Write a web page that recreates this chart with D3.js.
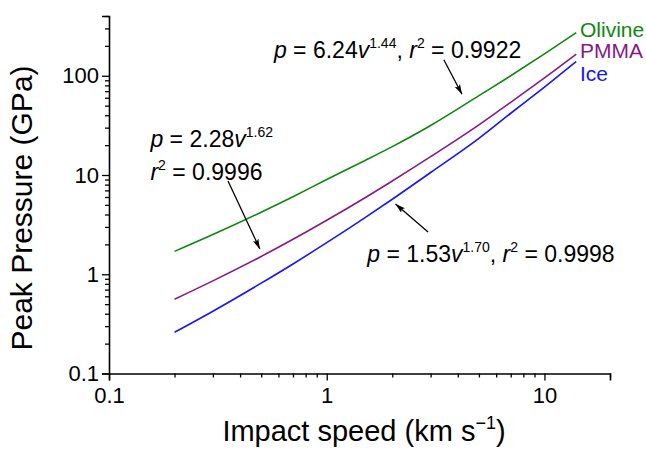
<!DOCTYPE html>
<html>
<head>
<meta charset="utf-8">
<script src="https://cdn.jsdelivr.net/npm/d3@7"></script>
<style>
  html, body { margin: 0; padding: 0; background: #fff; }
  svg { display: block; font-family: "Liberation Sans", Arial, sans-serif; }
</style>
</head>
<body>
<svg id="chart" width="646" height="451"></svg>
<script>
// ---- data ----
const speed   = [0.2, 0.3, 0.5, 0.7, 1, 1.5, 2, 3, 5, 7, 10, 14];
const olivine = [1.7, 2.51, 4.22, 6.05, 9.0, 14.0, 19.3, 31.5, 63, 100, 166, 272];
const pmma    = [0.56, 0.857, 1.51, 2.25, 3.5, 5.9, 8.7, 15.3, 32.0, 54, 95, 165];
const ice     = [0.26, 0.424, 0.813, 1.27, 2.08, 3.72, 5.7, 10.6, 23.4, 41.9, 77, 139];
const seriesNames = ["Olivine", "PMMA", "Ice"];
const xTickLabels = ["0.1", "1", "10"];
const yTickLabels = ["0.1", "1", "10", "100"];

const svg = d3.select("#chart");
const x = d3.scaleLog().domain([0.1, 20]).range([109, 610]);
const y = d3.scaleLog().domain([0.1, 400]).range([373.5, 16]);

const colors = {Olivine: "#0f870f", PMMA: "#871a87", Ice: "#1515ff"};
const seriesData = {Olivine: olivine, PMMA: pmma, Ice: ice};

// ---- axes ----
const xMinor = [];
for (const d of [0.1, 1, 10]) for (let k = 2; k <= 9; k++) if (d * k <= 20.001) xMinor.push(d * k);
const yMinor = [];
for (const d of [0.1, 1, 10, 100]) for (let k = 2; k <= 9; k++) if (d * k <= 400.001) yMinor.push(d * k);

const xAxisG = svg.append("g").attr("transform", "translate(0,373.5)");
xAxisG.call(d3.axisBottom(x).tickValues(xTickLabels.map(Number)).tickFormat(d => d3.format("~g")(d)).tickSize(7).tickPadding(7));
xAxisG.append("g").attr("class", "minor").call(d3.axisBottom(x).tickValues(xMinor).tickFormat("").tickSize(4));
const yAxisG = svg.append("g").attr("transform", "translate(109,0)");
yAxisG.call(d3.axisLeft(y).tickValues(yTickLabels.map(Number)).tickFormat(d => d3.format("~g")(d)).tickSize(7).tickPadding(3));
yAxisG.append("g").attr("class", "minor").call(d3.axisLeft(y).tickValues(yMinor).tickFormat("").tickSize(4));

svg.selectAll(".minor .domain").remove();
svg.selectAll(".domain").attr("stroke", "#000").attr("stroke-width", 1.6);
svg.selectAll(".tick line").attr("stroke", "#000").attr("stroke-width", 1.3);
svg.selectAll(".tick text").attr("font-size", 22).attr("fill", "#000").attr("font-family", "Liberation Sans, Arial, sans-serif");

// axis titles
const xt = svg.append("text").attr("x", 364).attr("y", 441).attr("text-anchor", "middle")
  .attr("font-size", 29).attr("fill", "#000");
xt.append("tspan").text("Impact speed (km s");
xt.append("tspan").attr("dy", -12).attr("font-size", 18).text("\u22121");
xt.append("tspan").attr("dy", 12).text(")");

svg.append("text").attr("transform", "translate(32,208) rotate(-90)").attr("text-anchor", "middle")
  .attr("font-size", 30).attr("fill", "#000").text("Peak Pressure (GPa)");

// ---- lines ----
const line = d3.line().x(d => x(d[0])).y(d => y(d[1])).curve(d3.curveMonotoneX);
for (const name of seriesNames) {
  const vals = seriesData[name];
  svg.append("path").datum(speed.map((v, i) => [v, vals[i]]))
    .attr("fill", "none").attr("stroke", colors[name]).attr("stroke-width", 1.6).attr("d", line);
}

// series labels
const labelPos = {Olivine: 37, PMMA: 58, Ice: 81};
for (const name of seriesNames) {
  svg.append("text").attr("x", 580).attr("y", labelPos[name]).attr("font-size", 21)
    .attr("fill", colors[name]).text(name);
}

// ---- annotations ----
svg.append("defs").append("marker").attr("id", "ah").attr("viewBox", "0 0 10 6")
  .attr("refX", 10).attr("refY", 3).attr("markerWidth", 10).attr("markerHeight", 6)
  .attr("markerUnits", "userSpaceOnUse").attr("orient", "auto")
  .append("path").attr("d", "M0,0 L10,3 L0,6 L2,3 Z").attr("fill", "#000");

const arrows = [
  {from: [3.45, 145], to: [4.18, 65]},
  {from: [0.352, 8.7], to: [0.493, 1.8]},
  {from: [2.92, 2.67], to: [2.07, 5.1]}
];
for (const a of arrows) {
  svg.append("line").attr("x1", x(a.from[0])).attr("y1", y(a.from[1]))
    .attr("x2", x(a.to[0])).attr("y2", y(a.to[1]))
    .attr("stroke", "#000").attr("stroke-width", 1.3).attr("marker-end", "url(#ah)");
}

const fs = 23, sfs = 14, sup = 10;
function eq(t, coef, expo, r2, inline) {
  t.append("tspan").attr("font-style", "italic").text("p");
  t.append("tspan").text(" = " + coef);
  t.append("tspan").attr("font-style", "italic").text("v");
  t.append("tspan").attr("dy", -sup).attr("font-size", sfs).text(expo);
  if (inline) {
    t.append("tspan").attr("dy", sup).text(", ");
    t.append("tspan").attr("font-style", "italic").text("r");
    t.append("tspan").attr("dy", -sup).attr("font-size", sfs).text("2");
    t.append("tspan").attr("dy", sup).text(" = " + r2);
  }
}
const t1 = svg.append("text").attr("x", x(0.572)).attr("y", y(150)).attr("font-size", fs).attr("fill", "#000");
eq(t1, "6.24", "1.44", "0.9922", true);
const t2 = svg.append("text").attr("x", x(0.155)).attr("y", y(19.3)).attr("font-size", fs).attr("fill", "#000");
eq(t2, "2.28", "1.62", "0.9996", false);
const t2b = svg.append("text").attr("x", x(0.155)).attr("y", y(19.3) + 33).attr("font-size", fs).attr("fill", "#000");
t2b.append("tspan").attr("font-style", "italic").text("r");
t2b.append("tspan").attr("dy", -sup).attr("font-size", sfs).text("2");
t2b.append("tspan").attr("dy", sup).text(" = 0.9996");
const t3 = svg.append("text").attr("x", x(1.535)).attr("y", y(1.34)).attr("font-size", fs).attr("fill", "#000");
eq(t3, "1.53", "1.70", "0.9998", true);
</script>
</body>
</html>
